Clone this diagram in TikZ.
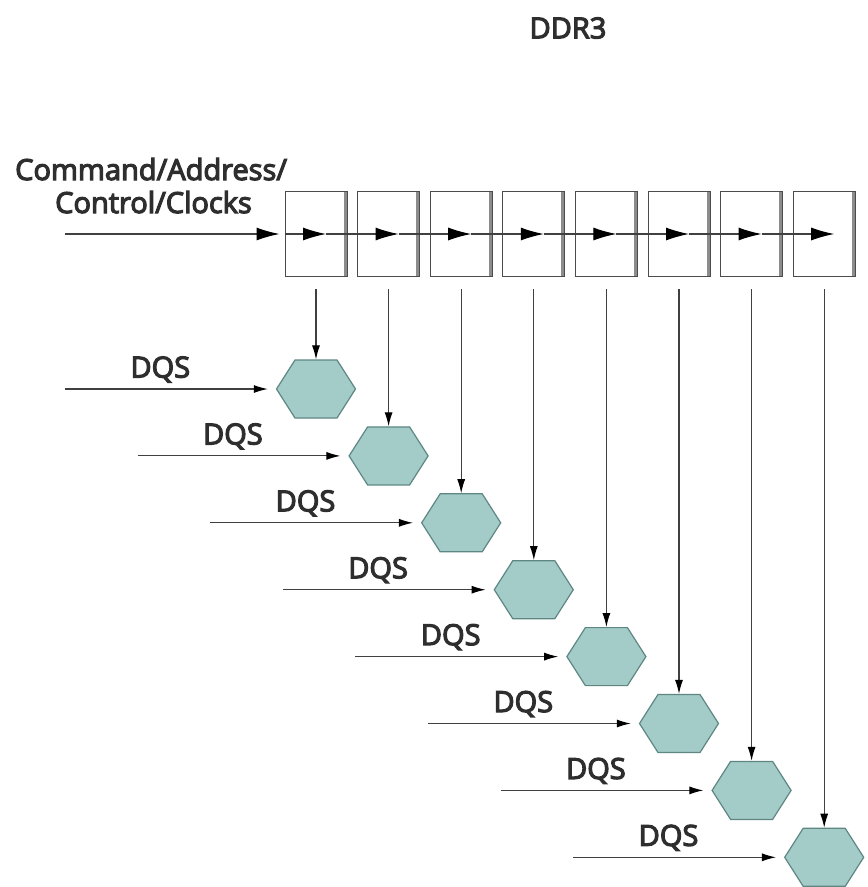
\documentclass[tikz,border=0pt]{standalone}
\usepackage{fontspec}
\setmainfont{Open Sans}[FakeBold=4]
\usetikzlibrary{arrows.meta,shapes.symbols,calc}
\definecolor{hexfill}{HTML}{A3CCC8}
\definecolor{hexline}{HTML}{5E8783}
\definecolor{ink}{HTML}{2E2E2E}
\begin{document}
\begin{tikzpicture}[x=1pt,y=-1pt,
  font=\fontsize{29}{33}\selectfont,
  latch/.style={draw=black!70,fill=white,line width=1pt,minimum width=62pt,minimum height=85pt,inner sep=0pt,
    path picture={\draw[black!45,line width=7pt] (path picture bounding box.north east) -- (path picture bounding box.south east);}},
  sampler/.style={signal,signal to=east and west,signal pointer angle=115,fill=hexfill,draw=hexline,line width=1.2pt,
    minimum width=79pt,minimum height=58pt,inner sep=0pt},
  wire/.style={draw=black!75,line width=1.1pt},
  bigtip/.style={wire,-{Latex[length=23pt,width=13pt,black]}},
  tip/.style={wire,-{Latex[length=14pt,width=8pt,black]}},
  lbl/.style={text=ink,inner sep=0pt}]
\useasboundingbox (0,0) rectangle (868,887);

\node[lbl] (title) at (568,28) {DDR3};
\node[lbl,anchor=base west] (cmd1) at (15,180) {Command/Address/};
\node[lbl,anchor=base west] (cmd2) at (55,213) {Control/Clocks};

% eight register stages and the DQS samplers under them
\foreach \i in {1,...,8}{
  \pgfmathsetmacro{\xx}{316+72.6*(\i-1)}
  \pgfmathsetmacro{\yy}{389+66.9*(\i-1)}
  \node[latch] (b\i) at (\xx,234) {};
  \node[sampler] (h\i) at (\xx,\yy) {};
  \coordinate (t\i) at (\xx+10,234);
  \coordinate (d\i) at (\xx-251,\yy);
}

% command/address path running through the stages
\coordinate (cin) at (65,234);
\draw[bigtip] (cin) -- ([xshift=-5pt]b1.west);
\foreach \i in {1,...,8}{
  \draw[bigtip] (b\i.west) -- (t\i);
}
\foreach \i/\j in {1/2,2/3,3/4,4/5,5/6,6/7,7/8}{
  \draw[wire] (t\i) -- (b\j.west);
}

% stage outputs down to the samplers, and the DQS strobes
\foreach \i in {1,...,8}{
  \draw[tip] ([yshift=-12pt]b\i.south) -- (h\i.north);
  \draw[tip] (d\i) -- node[lbl,pos=0.47,above=6pt] (q\i) {DQS} ([xshift=-8pt]h\i.west);
}
\end{tikzpicture}
\end{document}
